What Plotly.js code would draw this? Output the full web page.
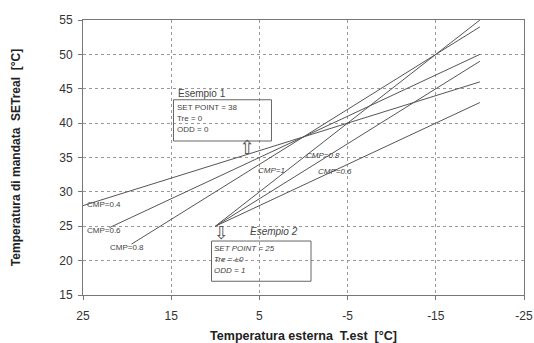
<!DOCTYPE html>
<html><head><meta charset="utf-8">
<script src="https://cdn.plot.ly/plotly-3.0.1.min.js"></script>
<style>html,body{margin:0;padding:0;background:#fff}#c{width:534px;height:343px}</style>
</head><body><div id="c"></div>
<script>
// Esempio 1 curves (set point 38, Tre 0)
const ex1_cmp04_x = [25, -20], ex1_cmp04_y = [28, 46];
const ex1_cmp06_x = [22, -20], ex1_cmp06_y = [24.8, 50];
const ex1_cmp08_x = [19.5, -20], ex1_cmp08_y = [22.4, 54];
// Esempio 2 curves (set point 25, Tre ±0, ODD 1)
const ex2_cmp1_x = [10, -20], ex2_cmp1_y = [25, 55];
const ex2_cmp08_x = [10, -20], ex2_cmp08_y = [25, 49];
const ex2_cmp06_x = [10, -20], ex2_cmp06_y = [25, 43];
const xTicks = [25, 15, 5, -5, -15, -25];
const yTicks = [15, 20, 25, 30, 35, 40, 45, 50, 55];

const lineStyle = {color: '#555', width: 1};
const mk = (x, y) => ({x, y, type: 'scatter', mode: 'lines', line: lineStyle, hoverinfo: 'skip', showlegend: false});
const data = [
  mk(ex1_cmp04_x, ex1_cmp04_y), mk(ex1_cmp06_x, ex1_cmp06_y), mk(ex1_cmp08_x, ex1_cmp08_y),
  mk(ex2_cmp1_x, ex2_cmp1_y), mk(ex2_cmp08_x, ex2_cmp08_y), mk(ex2_cmp06_x, ex2_cmp06_y)
];

const F = 'Arial, "Liberation Sans", sans-serif';
const txt = (x, y, text, italic, size) => ({
  x, y, xref: 'x', yref: 'y', text: italic ? '<i>' + text + '</i>' : text,
  showarrow: false, xanchor: 'left', yanchor: 'middle',
  font: {family: F, size: size || 8, color: '#444'}
});
const annotations = [
  txt(14.4, 44.3, 'Esempio 1', false, 10),
  txt(14.6, 42.3, 'SET POINT = 38'),
  txt(14.6, 40.7, 'Tre = 0'),
  txt(14.6, 39.1, 'ODD = 0'),
  txt(6.3, 24.2, 'Esempio 2', true, 10),
  txt(10.4, 21.8, 'SET POINT = 25', true),
  txt(10.4, 20.2, 'Tre = ±0', true),
  txt(10.4, 18.6, 'ODD = 1', true),
  txt(24.8, 28.2, 'CMP=0.4'),
  txt(24.8, 24.4, 'CMP=0.6'),
  txt(22.2, 21.9, 'CMP=0.8'),
  txt(5.4, 33.1, 'CMP=1', true),
  txt(-0.1, 35.3, 'CMP=0.8', true),
  txt(-1.4, 32.9, 'CMP=0.6', true),
  {x: 6.4, y: 36.5, xref: 'x', yref: 'y', text: '⇧', showarrow: false,
   font: {family: '"DejaVu Sans"', size: 19, color: '#555'}},
  {x: 9.35, y: 24.1, xref: 'x', yref: 'y', text: '⇩', showarrow: false,
   font: {family: '"DejaVu Sans"', size: 18, color: '#555'}}
];
const shapes = [
  {type: 'rect', xref: 'x', yref: 'y', x0: 14.74, x1: 3.63, y0: 37.4, y1: 43.4, line: {color: '#666', width: 1}, fillcolor: 'rgba(0,0,0,0)'},
  {type: 'rect', xref: 'x', yref: 'y', x0: 10.43, x1: -0.85, y0: 17.0, y1: 22.85, line: {color: '#666', width: 1}, fillcolor: 'rgba(0,0,0,0)'}
];

const layout = {
  width: 534, height: 343,
  margin: {l: 83, r: 10, t: 20, b: 48},
  paper_bgcolor: '#fff', plot_bgcolor: '#fff',
  showlegend: false,
  font: {family: F, color: '#333'},
  xaxis: {
    range: [25, -25], tickvals: xTicks, ticktext: xTicks.map(String),
    showgrid: true, gridcolor: '#999', griddash: 'dot', gridwidth: 1,
    zeroline: false, showline: true, linecolor: '#777', linewidth: 1, mirror: true,
    ticks: 'outside', ticklen: 4, tickcolor: '#777', ticklabelstandoff: 6,
    tickfont: {family: F, size: 12, color: '#333'},
    title: {text: '<b>Temperatura esterna  T.est  [°C]</b>', font: {family: F, size: 12.5, color: '#222'}, standoff: 8}
  },
  yaxis: {
    range: [15, 55], tickvals: yTicks, ticktext: yTicks.map(String),
    showgrid: true, gridcolor: '#999', griddash: 'dot', gridwidth: 1,
    zeroline: false, showline: true, linecolor: '#777', linewidth: 1, mirror: true,
    ticks: 'outside', ticklen: 4, tickcolor: '#777', ticklabelstandoff: 3,
    tickfont: {family: F, size: 12, color: '#333'},
    title: {text: '<b>Temperatura di mandata  SETreal  [°C]</b>', font: {family: F, size: 12, color: '#222'}, standoff: 36}
  },
  annotations, shapes
};
Plotly.newPlot('c', data, layout, {staticPlot: true, displayModeBar: false});
</script></body></html>
